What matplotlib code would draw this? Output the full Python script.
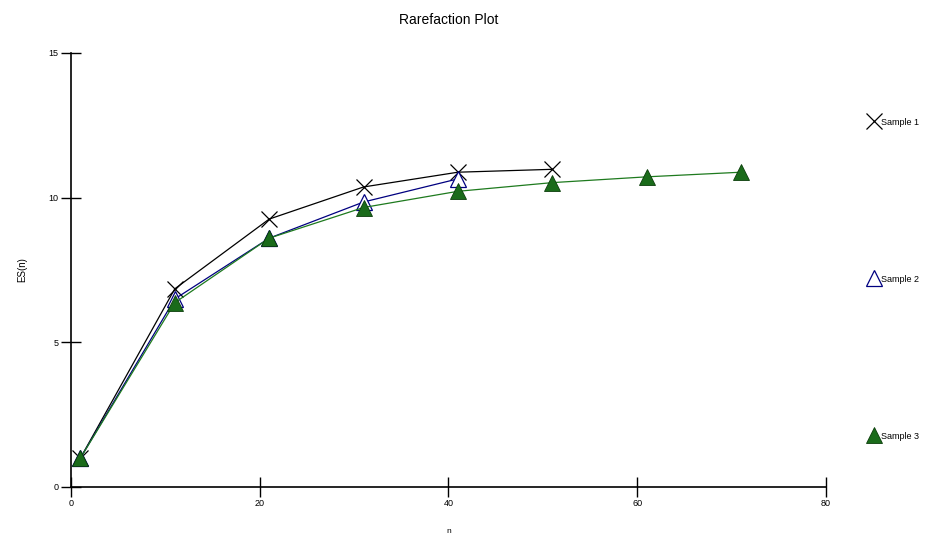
import matplotlib
matplotlib.use('Agg')
import matplotlib.pyplot as plt

plt.rcParams['font.family'] = ['Liberation Sans', 'DejaVu Sans']

# rarefaction data
n1 = [1, 11, 21, 31, 41, 51]
es1 = [1.0, 6.85, 9.26, 10.37, 10.88, 10.98]
n2 = [1, 11, 21, 31, 41]
es2 = [1.0, 6.5, 8.6, 9.85, 10.65]
n3 = [1, 11, 21, 31, 41, 51, 61, 71]
es3 = [1.0, 6.37, 8.6, 9.66, 10.22, 10.52, 10.72, 10.88]
labels = ['Sample 1', 'Sample 2', 'Sample 3']

fig = plt.figure(figsize=(9.33, 5.38), dpi=100)
ax = fig.add_axes([71 / 933, 1 - 487 / 538, (826 - 71) / 933, (487 - 53) / 538])

ax.plot(n1, es1, color='black', lw=0.9, marker='x', ms=11, mew=0.9,
        label=labels[0])
ax.plot(n2, es2, color='#000080', lw=0.9, marker='^', ms=11,
        mfc='white', mec='#000080', mew=0.9, label=labels[1])
ax.plot(n3, es3, color='#1e7a1e', lw=0.9, marker='^', ms=11,
        mfc='#1a6b1a', mec='#0a3d0a', mew=0.6, label=labels[2])

ax.set_xlim(0, 80)
ax.set_ylim(0, 15)
ax.set_xticks([0, 20, 40, 60, 80])
ax.set_yticks([0, 5, 10, 15])
for s in ['top', 'right']:
    ax.spines[s].set_visible(False)
for s in ['left', 'bottom']:
    ax.spines[s].set_linewidth(1.2)
ax.tick_params(direction='inout', length=14, width=1, labelsize=6.5, pad=2)

ax.set_title('Rarefaction Plot', fontsize=10, pad=21)
ax.set_ylabel('ES(n)', fontsize=7, labelpad=15)
ax.set_xlabel('n', fontsize=6, labelpad=14)

ax.legend(loc='upper left', bbox_to_anchor=(1.045, 0.87), frameon=False,
          fontsize=6.5, labelspacing=16.4, handlelength=1.2,
          handletextpad=0.2, markerscale=1.0)
for line in ax.get_legend().get_lines():
    line.set_linestyle('none')

fig.savefig('out.png', dpi=100)
